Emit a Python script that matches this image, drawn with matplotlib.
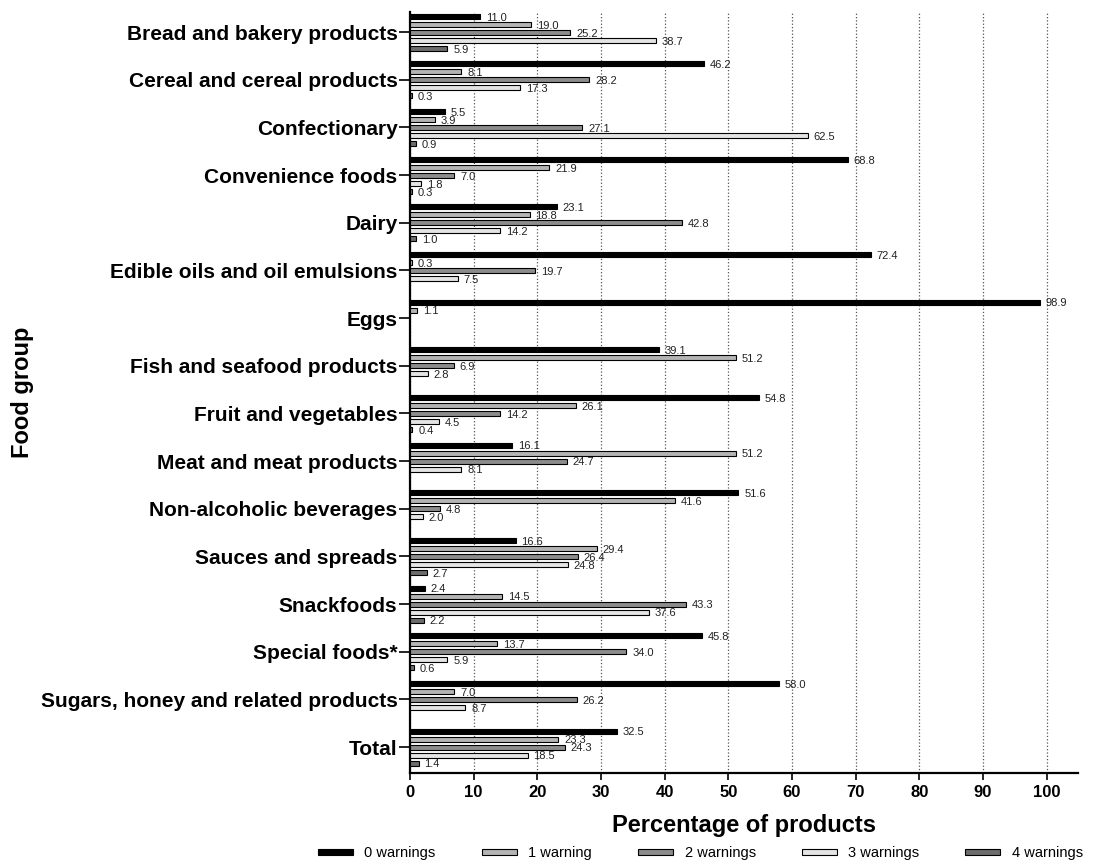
#Grouped horizontal bars: warnings per food group
import numpy as np
import matplotlib.pyplot as plt

plt.rcParams['font.family'] = ['Liberation Sans', 'DejaVu Sans']

groups = ['Bread and bakery products', 'Cereal and cereal products', 'Confectionary',
          'Convenience foods', 'Dairy', 'Edible oils and oil emulsions', 'Eggs',
          'Fish and seafood products', 'Fruit and vegetables', 'Meat and meat products',
          'Non-alcoholic beverages', 'Sauces and spreads', 'Snackfoods', 'Special foods*',
          'Sugars, honey and related products', 'Total']

# None = no bar shown
w0 = [11.0, 46.2, 5.5, 68.8, 23.1, 72.4, 98.9, 39.1, 54.8, 16.1, 51.6, 16.6, 2.4, 45.8, 58.0, 32.5]
w1 = [19.0, 8.1, 3.9, 21.9, 18.8, 0.3, 1.1, 51.2, 26.1, 51.2, 41.6, 29.4, 14.5, 13.7, 7.0, 23.3]
w2 = [25.2, 28.2, 27.1, 7.0, 42.8, 19.7, None, 6.9, 14.2, 24.7, 4.8, 26.4, 43.3, 34.0, 26.2, 24.3]
w3 = [38.7, 17.3, 62.5, 1.8, 14.2, 7.5, None, 2.8, 4.5, 8.1, 2.0, 24.8, 37.6, 5.9, 8.7, 18.5]
w4 = [5.9, 0.3, 0.9, 0.3, 1.0, None, None, None, 0.4, None, None, 2.7, 2.2, 0.6, None, 1.4]

series = [w0, w1, w2, w3, w4]
names = ['0 warnings', '1 warning', '2 warnings', '3 warnings', '4 warnings']
colors = ['#000000', '#b4b4b4', '#8c8c8c', '#e4e4e4', '#6c6c6c']

fig = plt.figure(figsize=(10.96, 8.63), dpi=100)
ax = fig.add_axes([0.374, 0.104, 0.61, 0.882])

y = np.arange(len(groups))
step = 0.168
h = 0.105

handles = []
for k, vals in enumerate(series):
    pos = y + (k - 2) * step
    v = np.array([np.nan if a is None else a for a in vals])
    b = ax.barh(pos, v, height=h, color=colors[k], edgecolor='black', linewidth=0.8,
                label=names[k], zorder=3)
    handles.append(b)
    for p, a in zip(pos, vals):
        if a is None:
            continue
        ax.text(a + 0.9, p + 0.03, '%.1f' % a, fontsize=8, va='center', ha='left',
                color='#222222', zorder=4)

ax.set_yticks(y)
ax.set_yticklabels(groups, fontsize=15, fontweight='bold')
ax.set_ylim(len(groups) - 0.45, -0.42)
ax.set_xlim(0, 105)
ax.set_xticks(np.arange(0, 101, 10))
ax.set_xticklabels([str(t) for t in range(0, 101, 10)], fontsize=12, fontweight='bold')
ax.xaxis.grid(True, linestyle=':', color='#555555', linewidth=0.9, zorder=0)

for s in ['top', 'right']:
    ax.spines[s].set_visible(False)
for s in ['left', 'bottom']:
    ax.spines[s].set_linewidth(1.6)
ax.tick_params(axis='y', length=8, width=1.2, pad=1)
ax.tick_params(axis='x', length=5, width=1.2)

ax.set_xlabel('Percentage of products', fontsize=17, fontweight='bold', labelpad=10)
ax.set_ylabel('Food group', fontsize=17, fontweight='bold')
ax.yaxis.set_label_coords(-0.562, 0.5)

fig.legend(handles=handles, labels=names, loc='lower left', bbox_to_anchor=(0.278, -0.012),
           ncol=5, frameon=False, fontsize=10.5, handlelength=2.4, handleheight=0.35,
           columnspacing=3.15)

plt.savefig('out.png', dpi=100)
